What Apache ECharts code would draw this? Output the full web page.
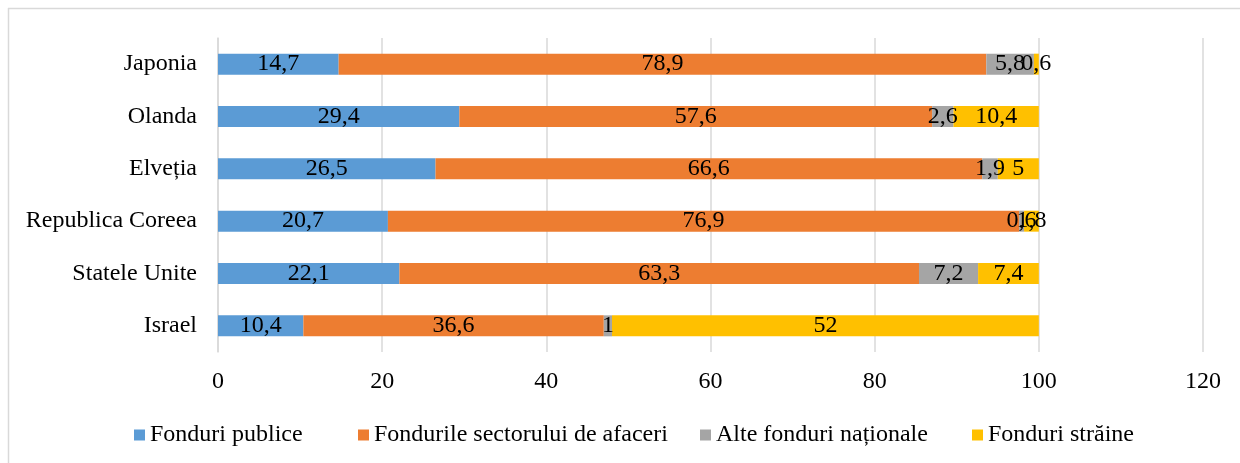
<!DOCTYPE html>
<html>
<head>
<meta charset="utf-8">
<script src="https://cdn.jsdelivr.net/npm/echarts@6/dist/echarts.min.js"></script>
<style>html,body{margin:0;padding:0;background:#fff}#c{width:1240px;height:463px}</style>
</head>
<body>
<div id="c"></div>
<script>
var categories = ['Japonia', 'Olanda', 'Elveția', 'Republica Coreea', 'Statele Unite', 'Israel'];
var seriesNames = ['Fonduri publice', 'Fondurile sectorului de afaceri', 'Alte fonduri naționale', 'Fonduri străine'];
var fonduriPublice = [14.7, 29.4, 26.5, 20.7, 22.1, 10.4];
var fonduriAfaceri = [78.9, 57.6, 66.6, 76.9, 63.3, 36.6];
var alteFonduri = [5.8, 2.6, 1.9, 0.6, 7.2, 1];
var fonduriStraine = [0.6, 10.4, 5, 1.8, 7.4, 52];
var xTicks = [0, 20, 40, 60, 80, 100, 120];
var colors = ['#5B9BD5', '#ED7D31', '#A5A5A5', '#FFC000'];

var FONT = '"Liberation Serif", "Times New Roman", serif';
var values = [fonduriPublice, fonduriAfaceri, alteFonduri, fonduriStraine];
var legendLefts = [134, 358, 700, 972];

var chart = echarts.init(document.getElementById('c'), null, {renderer: 'canvas'});
chart.setOption({
  backgroundColor: '#fff',
  animation: false,
  textStyle: {fontFamily: FONT},
  graphic: [
    {type: 'line', shape: {x1: 8.5, y1: 8, x2: 8.5, y2: 463}, style: {stroke: '#D9D9D9', lineWidth: 1.5}},
    {type: 'line', shape: {x1: 8, y1: 8.5, x2: 1240, y2: 8.5}, style: {stroke: '#D9D9D9', lineWidth: 1.5}}
  ],
  grid: {left: 218, right: 37, top: 38, height: 314, containLabel: false},
  legend: seriesNames.map(function (n, i) {
    return {
      left: legendLefts[i], top: 423, padding: 0,
      itemWidth: 11, itemHeight: 11, itemGap: 0,
      icon: 'rect',
      textStyle: {fontFamily: FONT, fontSize: 24, color: '#000'},
      data: [n]
    };
  }),
  xAxis: {
    type: 'value', min: xTicks[0], max: xTicks[xTicks.length - 1], interval: 20,
    axisLine: {show: false}, axisTick: {show: false},
    splitLine: {lineStyle: {color: '#D9D9D9', width: 1.5}},
    axisLabel: {fontFamily: FONT, fontSize: 24, color: '#000', margin: 18}
  },
  yAxis: {
    type: 'category', data: categories, inverse: true,
    axisLine: {show: true, lineStyle: {color: '#D9D9D9', width: 1.5}},
    axisTick: {show: false},
    axisLabel: {fontFamily: FONT, fontSize: 24, color: '#000', margin: 21}
  },
  series: seriesNames.map(function (n, i) {
    return {
      name: n, type: 'bar', stack: 'total', data: values[i],
      barWidth: 21,
      itemStyle: {color: colors[i]},
      label: {
        show: true, position: 'inside', color: '#000',
        fontFamily: FONT, fontSize: 24,
        formatter: function (p) { return String(p.value).replace('.', ','); }
      }
    };
  })
});
</script>
</body>
</html>
